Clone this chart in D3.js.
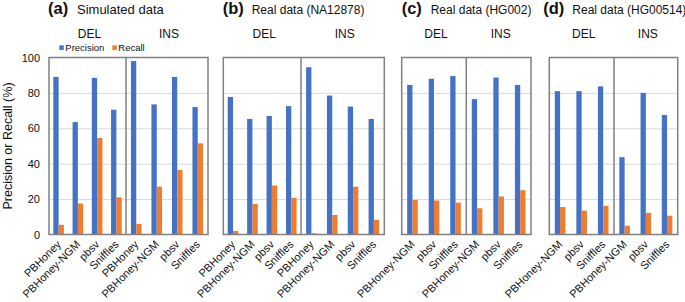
<!DOCTYPE html>
<html>
<head>
<meta charset="utf-8">
<script src="https://cdn.jsdelivr.net/npm/d3@7"></script>
<style>
  body { margin: 0; background: #fff; }
  svg { display: block; font-family: "Liberation Sans", Arial, sans-serif; }
</style>
</head>
<body>
<svg></svg>
<script>
// values (%), first row DEL, second row INS
const letters = ["(a)", "(b)", "(c)", "(d)"];
const titles = ["Simulated data", "Real data (NA12878)", "Real data (HG002)", "Real data (HG00514)"];
const svTypes = ["DEL", "INS"];
const seriesNames = ["Precision", "Recall"];
const yTicks = [0, 20, 40, 60, 80, 100];

const toolsFour = ["PBHoney", "PBHoney-NGM", "pbsv", "Sniffles"];
const toolsThree = ["PBHoney-NGM", "pbsv", "Sniffles"];

const precisionA = [[89, 63.5, 88.5, 70.5], [98, 73.5, 89, 72]];
const recallA    = [[5.5, 17.5, 54.5, 21], [6, 27, 36.5, 51.5]];
const precisionB = [[77.7, 65.3, 67, 72.5], [94.5, 78.5, 72.3, 65.3]];
const recallB    = [[2, 17.3, 27.7, 20.7], [0.7, 11, 27, 8.3]];
const precisionC = [[84.5, 88, 89.5], [76.5, 88.7, 84.5]];
const recallC    = [[19.5, 19.2, 18], [14.8, 21.5, 25]];
const precisionD = [[81, 81, 83.7], [43.7, 80, 67.5]];
const recallD    = [[15.5, 13.5, 16.2], [5, 12.2, 10.6]];

const width = 685, height = 302;
const colors = { Precision: "#4472c4", Recall: "#ed7d31" };
const barW = 5.3;

// layout of each panel box: left edge, divider, right edge, title x, title size
const boxes = [
  { x0: 49, xm: 126, x1: 208, tx: 48, ts: 13 },
  { x0: 223.3, xm: 301, x1: 384.3, tx: 222.7, ts: 12 },
  { x0: 401.7, xm: 466.3, x1: 531, tx: 401.7, ts: 12 },
  { x0: 549.3, xm: 614, x1: 677.7, tx: 543.3, ts: 12 }
];
const panelTools = [toolsFour, toolsFour, toolsThree, toolsThree];
const panelPrec = [precisionA, precisionB, precisionC, precisionD];
const panelRec = [recallA, recallB, recallC, recallD];

const svg = d3.select("svg").attr("width", width).attr("height", height);

const y = d3.scaleLinear().domain([0, 100]).range([234.5, 57.5]);
const xSeries = d3.scaleBand().domain(seriesNames).range([-barW, barW]);

boxes.forEach((b, p) => {
  const g = svg.append("g");
  const tools = panelTools[p];

  // titles
  g.append("text").attr("x", b.tx).attr("y", 13.5)
    .attr("font-size", 16.5).attr("font-weight", "bold").attr("fill", "#111")
    .text(letters[p]);
  g.append("text").attr("x", b.tx + 29).attr("y", 13.5)
    .attr("font-size", b.ts).attr("fill", "#111")
    .text(titles[p]);

  // gridlines
  g.append("g").attr("transform", `translate(${b.x0},0)`)
    .call(d3.axisLeft(y).tickValues([20, 40, 60, 80]).tickSize(-(b.x1 - b.x0)).tickFormat(""))
    .call(s => s.select(".domain").remove())
    .call(s => s.selectAll("line").attr("stroke", "#d9d9d9").attr("stroke-width", 1));

  const halves = [[b.x0, b.xm], [b.xm, b.x1]];
  halves.forEach((h, k) => {
    const x = d3.scaleBand().domain(tools).range(h);

    g.append("text").attr("x", (h[0] + h[1]) / 2 + 2).attr("y", 37.5)
      .attr("text-anchor", "middle").attr("font-size", 12).attr("fill", "#111")
      .text(svTypes[k]);

    const rows = tools.map((t, i) => ({
      tool: t,
      vals: [
        { s: "Precision", v: panelPrec[p][k][i] },
        { s: "Recall", v: panelRec[p][k][i] }
      ]
    }));

    const grp = g.selectAll(null).data(rows).join("g")
      .attr("transform", d => `translate(${x(d.tool) + x.bandwidth() / 2},0)`);

    grp.selectAll("rect").data(d => d.vals).join("rect")
      .attr("x", d => xSeries(d.s))
      .attr("width", xSeries.bandwidth())
      .attr("y", d => y(d.v))
      .attr("height", d => y(0) - y(d.v))
      .attr("fill", d => colors[d.s]);

    grp.append("text")
      .attr("text-anchor", "end")
      .attr("font-size", 11)
      .attr("fill", "#111")
      .attr("transform", "translate(3,245) rotate(-45)")
      .text(d => d.tool);
  });

  // box and divider
  g.append("rect").attr("x", b.x0).attr("y", y(100))
    .attr("width", b.x1 - b.x0).attr("height", y(0) - y(100))
    .attr("fill", "none").attr("stroke", "#808080").attr("stroke-width", 1.5);
  g.append("line").attr("x1", b.xm).attr("x2", b.xm)
    .attr("y1", y(100)).attr("y2", y(0))
    .attr("stroke", "#808080").attr("stroke-width", 1.5);

  if (p === 0) {
    g.append("g").attr("transform", `translate(${b.x0},0)`)
      .call(d3.axisLeft(y).tickValues(yTicks).tickSize(0).tickPadding(9))
      .call(s => s.select(".domain").remove())
      .call(s => s.selectAll("text").attr("font-size", 11).attr("fill", "#111")
        .attr("font-family", "Liberation Sans, Arial, sans-serif"));

    // legend
    const leg = g.append("g").attr("transform", "translate(59.3,47.7)");
    const items = leg.selectAll("g").data(seriesNames).join("g")
      .attr("transform", (d, i) => `translate(${i * 53},0)`);
    items.append("rect").attr("x", 0).attr("y", -2.3).attr("width", 4.5).attr("height", 4.5)
      .attr("fill", d => colors[d]);
    items.append("text").attr("x", 6).attr("y", 3.3)
      .attr("font-size", 9.5).attr("fill", "#111").text(d => d);

    g.append("text")
      .attr("transform", "translate(12,146) rotate(-90)")
      .attr("text-anchor", "middle").attr("font-size", 12.5).attr("fill", "#111")
      .text("Precision or Recall (%)");
  }
});
</script>
</body>
</html>
